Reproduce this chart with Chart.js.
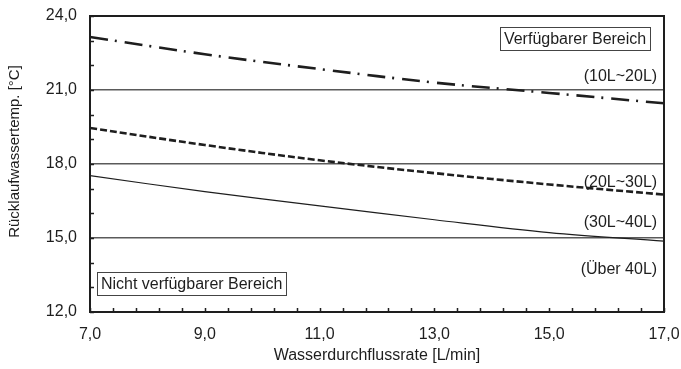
<!DOCTYPE html>
<html>
<head>
<meta charset="utf-8">
<script src="https://cdn.jsdelivr.net/npm/chart.js@4/dist/chart.umd.min.js"></script>
<style>
    html, body { margin: 0; padding: 0; background: #fff; }
    #wrap { width: 681px; height: 369px; }
</style>
</head>
<body>
<div id="wrap"><canvas id="chart"></canvas></div>
<script>
const flowRates = [7, 9, 11, 13, 15, 17];
const temp10to20 = [23.15, 22.45, 21.85, 21.3, 20.88, 20.46];
const temp20to30 = [19.46, 18.77, 18.15, 17.63, 17.17, 16.76];
const temp30to40 = [17.53, 16.88, 16.3, 15.74, 15.22, 14.87];
const rangeLabels = ["(10L~20L)", "(20L~30L)", "(30L~40L)", "(Über 40L)"];
const rangeLabelValues = [21.53, 17.24, 15.61, 13.7];
const boxLabels = ["Verfügbarer Bereich", "Nicht verfügbarer Bereich"];
const gridValues = [15, 18, 21];

const FONT = "'Liberation Sans', Arial, sans-serif";
const INK = "#1e1e1e";

function comma(v) {
    return v.toFixed(1).replace(".", ",");
}

function toPoints(values) {
    return values.map((y, i) => ({ x: flowRates[i], y }));
}

const overlayPlugin = {
    id: "overlay",
    afterDraw(chart) {
        const { ctx, chartArea: area, scales: { x, y } } = chart;
        ctx.save();

        // inward tick marks
        ctx.strokeStyle = INK;
        ctx.lineWidth = 1.5;
        ctx.beginPath();
        x.ticks.forEach((t) => {
            const px = Math.round(x.getPixelForValue(t.value)) + 0.5;
            ctx.moveTo(px, area.bottom);
            ctx.lineTo(px, area.bottom - 4);
        });
        y.ticks.forEach((t) => {
            const py = Math.round(y.getPixelForValue(t.value)) + 0.5;
            ctx.moveTo(area.left, py);
            ctx.lineTo(area.left + 4, py);
        });
        ctx.stroke();

        // frame
        ctx.lineWidth = 2;
        ctx.strokeRect(area.left, area.top, area.right - area.left, area.bottom - area.top);

        // range labels
        ctx.fillStyle = INK;
        ctx.font = "16px " + FONT;
        ctx.textAlign = "right";
        ctx.textBaseline = "middle";
        rangeLabels.forEach((label, i) => {
            ctx.fillText(label, x.getPixelForValue(16.88), y.getPixelForValue(rangeLabelValues[i]));
        });

        // boxed labels
        const drawBox = (text, px, py, alignRight) => {
            const w = ctx.measureText(text).width + 8;
            const h = 23;
            const left = alignRight ? px - w : px;
            ctx.fillStyle = "#fff";
            ctx.fillRect(left, py - h / 2, w, h);
            ctx.strokeStyle = "#444";
            ctx.lineWidth = 1;
            ctx.strokeRect(Math.round(left) + 0.5, Math.round(py - h / 2) + 0.5, Math.round(w), h);
            ctx.fillStyle = INK;
            ctx.textAlign = "left";
            ctx.fillText(text, left + 4, py + 1);
        };
        drawBox(boxLabels[0], x.getPixelForValue(16.76), y.getPixelForValue(23.07), true);
        drawBox(boxLabels[1], x.getPixelForValue(7.12), y.getPixelForValue(13.14), false);

        ctx.restore();
    },
};

new Chart(document.getElementById("chart"), {
    type: "line",
    data: {
        datasets: [
            {
                label: "10L~20L",
                data: toPoints(temp10to20),
                borderColor: INK,
                borderWidth: 2.6,
                borderDash: [18, 7, 2, 8],
                pointRadius: 0,
                tension: 0.35,
            },
            {
                label: "20L~30L",
                data: toPoints(temp20to30),
                borderColor: INK,
                borderWidth: 2.6,
                borderDash: [7, 3],
                pointRadius: 0,
                tension: 0.35,
            },
            {
                label: "30L~40L",
                data: toPoints(temp30to40),
                borderColor: INK,
                borderWidth: 1.2,
                pointRadius: 0,
                tension: 0.35,
            },
        ],
    },
    options: {
        responsive: true,
        maintainAspectRatio: false,
        animation: false,
        events: [],
        layout: { padding: { top: 16, right: 17, left: 0, bottom: 0 } },
        plugins: {
            legend: { display: false },
            tooltip: { enabled: false },
        },
        scales: {
            x: {
                type: "linear",
                min: 7,
                max: 17,
                afterFit: (scale) => {
                    scale.height = 57;
                    scale.paddingLeft = 0;
                    scale.paddingRight = 0;
                },
                border: { display: false },
                grid: { display: false, drawTicks: false },
                ticks: {
                    stepSize: 0.4,
                    autoSkip: false,
                    maxRotation: 0,
                    padding: 13,
                    color: INK,
                    font: { family: FONT, size: 16 },
                    callback: (value) => {
                        const r = Math.round(value);
                        return Math.abs(value - r) < 1e-6 && r % 2 === 1 ? comma(r) : "";
                    },
                },
                title: {
                    display: true,
                    text: "Wasserdurchflussrate [L/min]",
                    color: INK,
                    font: { family: FONT, size: 16 },
                    padding: { top: 0, bottom: 4 },
                },
            },
            y: {
                min: 12,
                max: 24,
                afterFit: (scale) => {
                    scale.width = 90;
                    scale.paddingTop = 0;
                    scale.paddingBottom = 0;
                },
                border: { display: false },
                grid: {
                    drawTicks: false,
                    lineWidth: 1.6,
                    color: (c) => (gridValues.includes(c.tick.value) ? "#5a5a5a" : "rgba(0,0,0,0)"),
                },
                ticks: {
                    stepSize: 1,
                    autoSkip: false,
                    padding: 13,
                    color: INK,
                    font: { family: FONT, size: 16 },
                    callback: (value) => (value % 3 === 0 ? comma(value) : ""),
                },
                title: {
                    display: true,
                    // leading spaces nudge the title up a little like the original
                    text: "      Rücklaufwassertemp. [°C]",
                    color: INK,
                    font: { family: FONT, size: 15 },
                    padding: { top: 6, bottom: 0 },
                },
            },
        },
    },
    plugins: [overlayPlugin],
});
</script>
</body>
</html>
